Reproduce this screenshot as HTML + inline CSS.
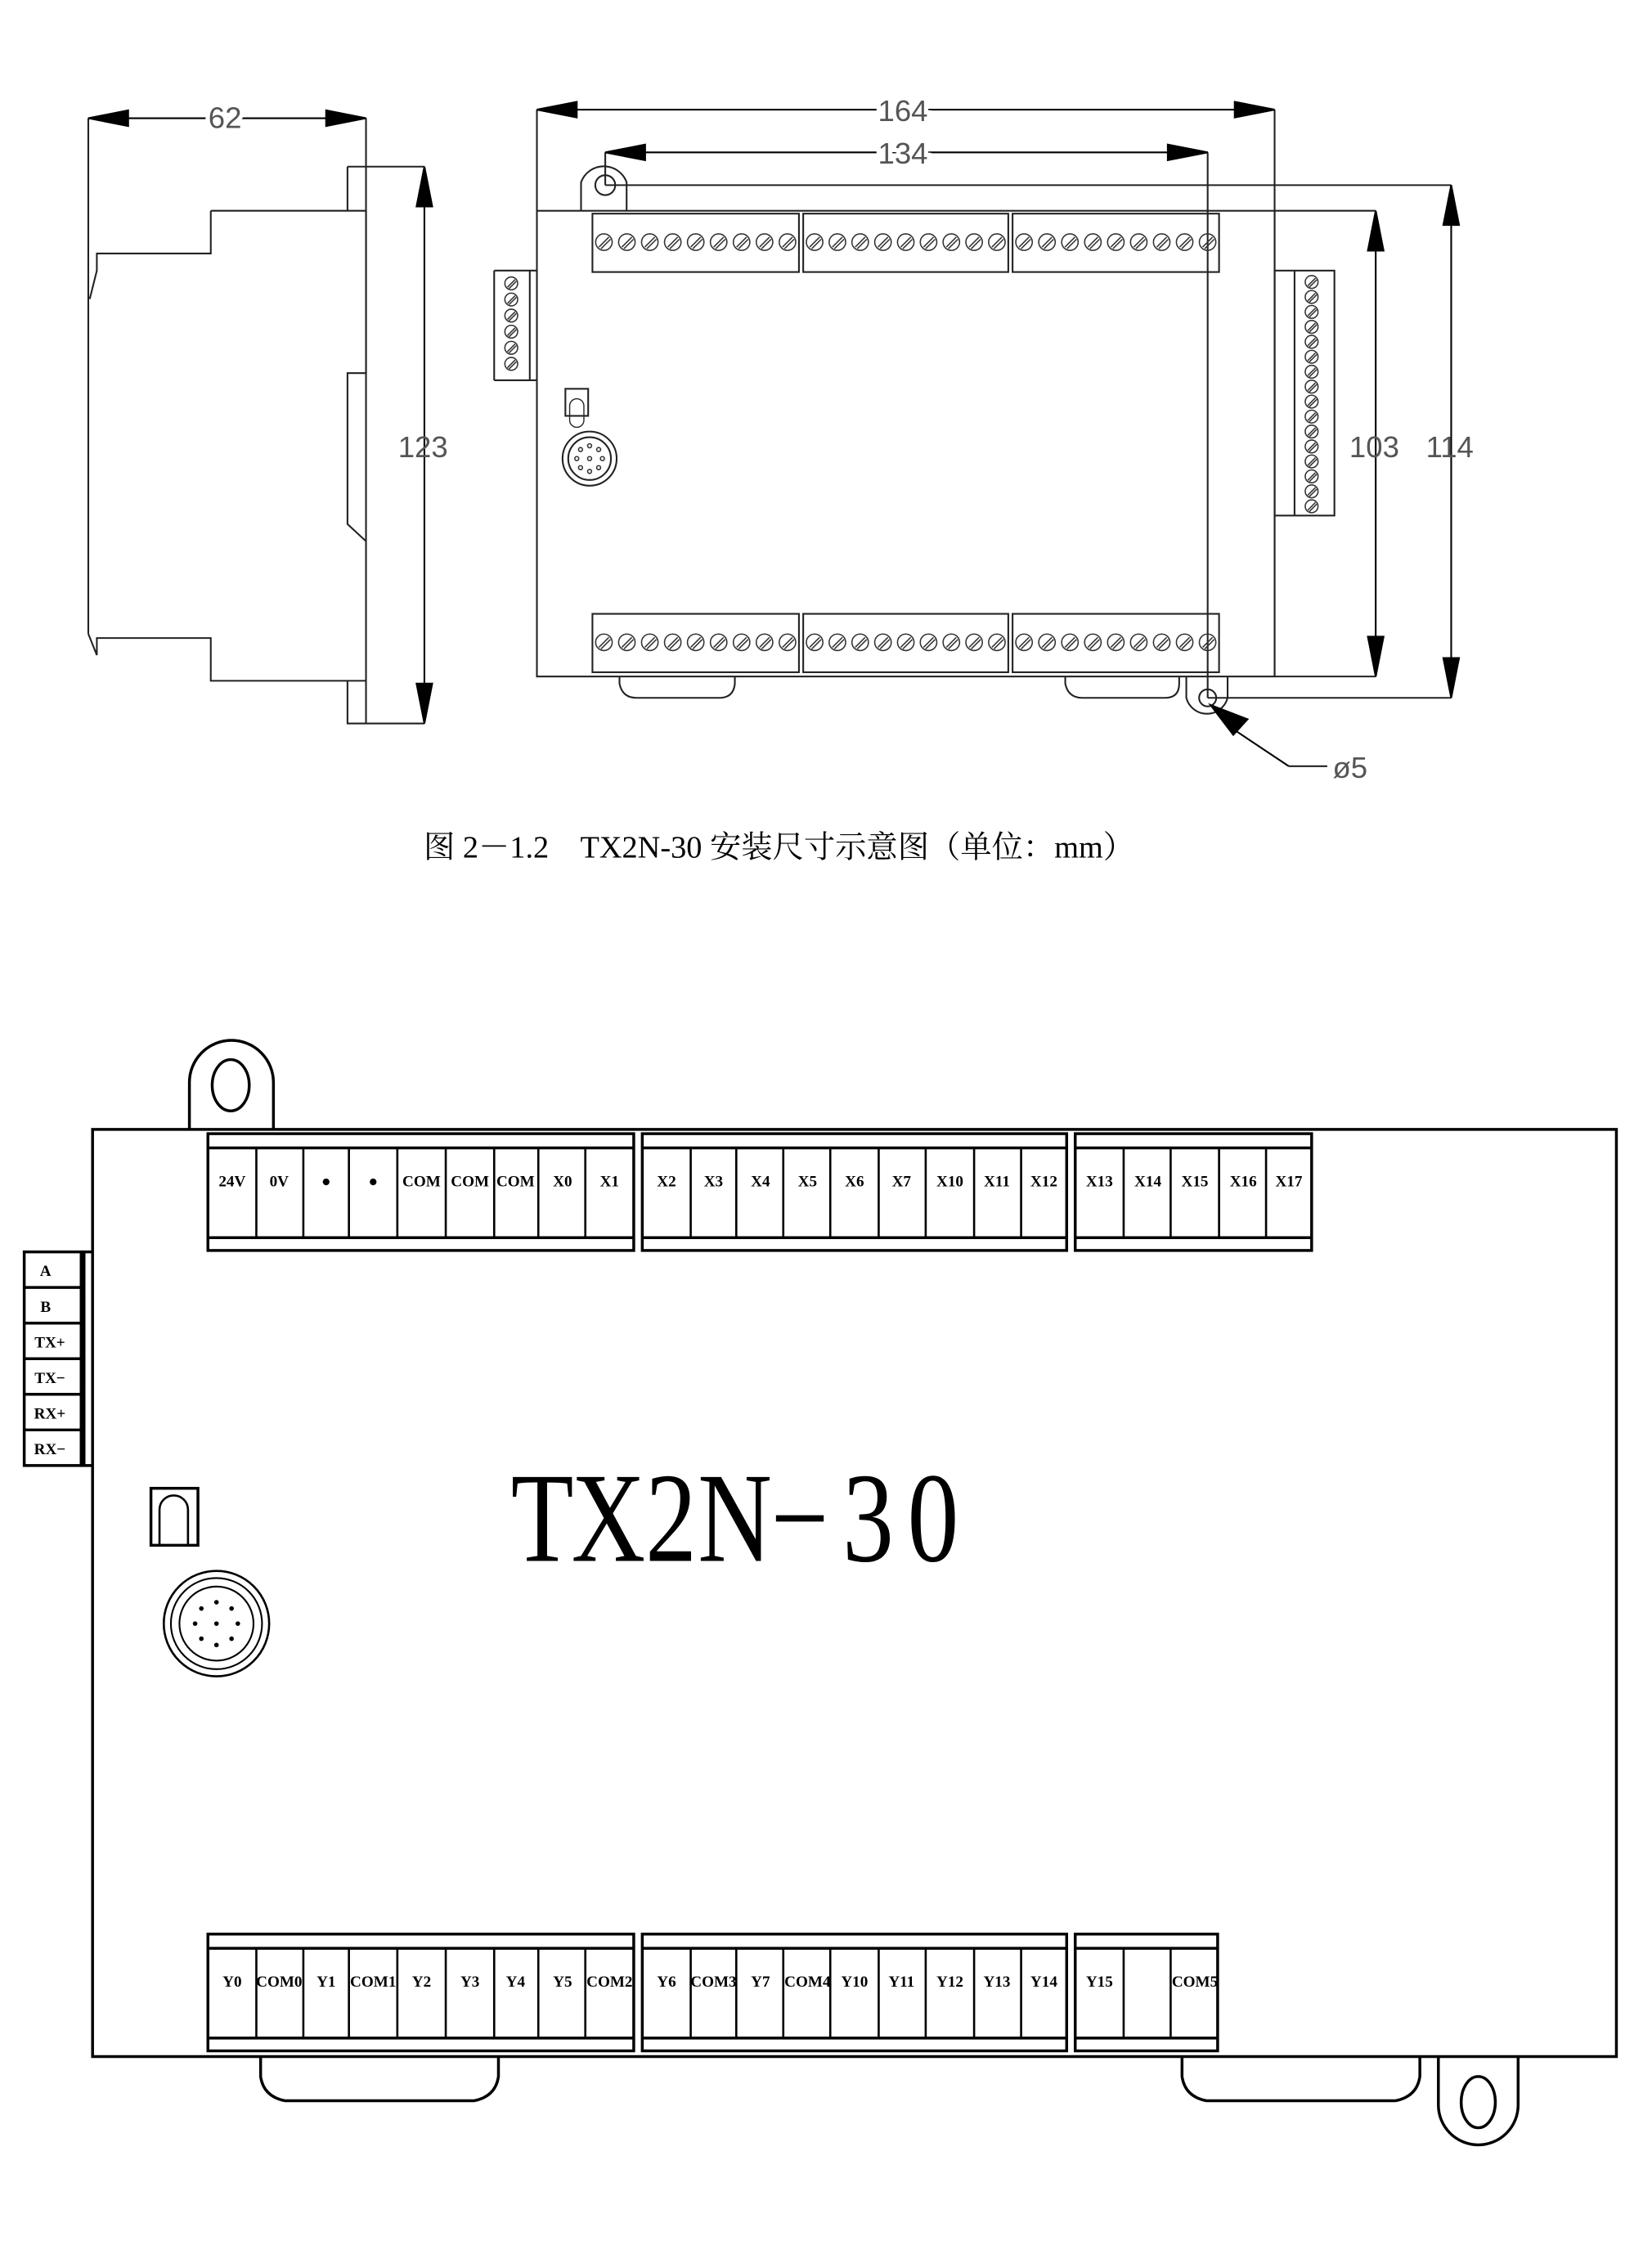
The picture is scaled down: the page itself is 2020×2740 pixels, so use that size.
<!DOCTYPE html>
<html><head><meta charset="utf-8"><style>
html,body{margin:0;padding:0;background:#fff;width:2020px;height:2740px;overflow:hidden}
svg{display:block}
.t{font-family:"Liberation Serif","Noto Serif CJK SC",serif;font-weight:bold;font-size:11px;text-anchor:middle}
.d{font-family:"Liberation Sans",sans-serif;font-size:21px;fill:#555;text-anchor:middle}
</style></head><body>
<svg id="s" width="2020" height="2740" viewBox="0 0 1160 1573.5" preserveAspectRatio="none" xmlns="http://www.w3.org/2000/svg">
<g fill="none" stroke="#222" stroke-width="1.2">
<line x1="62" y1="83" x2="62" y2="445"/>
<line x1="257" y1="83" x2="257" y2="508"/>
<path d="M244,117 H298 M244,117 V148 M244,478 V508 H298"/>
<path d="M148,148 H257 M148,148 V178 H68 V190 L63,210 M62,445 L68,460 V448 H148 V478 H257 M257,148 V262 H244 V368 L257,380"/>
<rect x="377" y="148" width="518" height="327"/>
<line x1="377" y1="77" x2="377" y2="148"/>
<line x1="895" y1="77" x2="895" y2="475"/>
<line x1="425" y1="107" x2="425" y2="130"/>
<line x1="848" y1="107" x2="848" y2="490"/>
<path d="M408,148 V128 A17,17 0 0 1 440,128 V148"/>
<circle cx="425" cy="130" r="7"/>
<line x1="425" y1="130" x2="1019" y2="130"/>
<line x1="848" y1="490" x2="1019" y2="490"/>
<line x1="895" y1="148" x2="966" y2="148"/>
<line x1="895" y1="475" x2="966" y2="475"/>
<path d="M833,475 V490 A15,15 0 0 0 862,490 V475"/>
<circle cx="848" cy="490" r="6"/>
<path d="M905,538 H932"/>
<rect x="416" y="150" width="145" height="41"/><rect x="564" y="150" width="144" height="41"/><rect x="711" y="150" width="145" height="41"/>
<rect x="416" y="431" width="145" height="41"/><rect x="564" y="431" width="144" height="41"/><rect x="711" y="431" width="145" height="41"/>
<path d="M347,190 H377 M347,267 H377 M347,190 V267 M372,190 V267"/>
<rect x="895" y="190" width="42" height="172"/><line x1="909" y1="190" x2="909" y2="362"/>
<rect x="397" y="273" width="16" height="19"/>
<path d="M400,292 V285 A5,5 0 0 1 410,285 V295 A5,5 0 0 1 400,295 Z" stroke-width="0.8"/>
<circle cx="414" cy="322" r="19"/><circle cx="414" cy="322" r="15"/>
<path d="M435,475 V480 Q437,490 447,490 H505 Q515,490 516,480 V475"/>
<path d="M748,475 V480 Q750,490 760,490 H818 Q828,490 828,480 V475"/>
</g>
<g id="dims" stroke="#000" stroke-width="1.2" fill="none"></g>
<g id="screws" stroke="#333" stroke-width="0.9" fill="none"></g>
<path d="M850,495 L876,505 L866,516 Z M866,512 L905,538" stroke="#000" fill="#000" stroke-width="1.2"/>
<text class="d" x="158" y="90" stroke="#fff" stroke-width="6">62</text><text class="d" x="158" y="90">62</text>
<text class="d" x="634" y="85" stroke="#fff" stroke-width="6">164</text><text class="d" x="634" y="85">164</text>
<text class="d" x="634" y="115" stroke="#fff" stroke-width="6">134</text><text class="d" x="634" y="115">134</text>
<text class="d" x="297" y="321">123</text>
<text class="d" x="965" y="321">103</text>
<text class="d" x="1018" y="321">114</text>
<text class="d" x="948" y="546">ø5</text>
<text x="547" y="602" style="font-family:'Liberation Serif','Noto Serif CJK SC',serif;font-size:22px;text-anchor:middle;white-space:pre" xml:space="preserve">图 2－1.2    TX2N-30 安装尺寸示意图（单位：mm）</text>

<g fill="none" stroke="#000" stroke-width="2">
<rect x="65" y="793" width="1070" height="651"/>
<path d="M133,793 V760 A29,29 0 0 1 192,760 V793"/>
<ellipse cx="162" cy="762" rx="13" ry="18"/>
<path d="M1010,1444 V1478 A28,28 0 0 0 1066,1478 V1444"/>
<ellipse cx="1038" cy="1476" rx="12" ry="18"/>
<path d="M183,1444 V1458 Q185,1472 200,1475 H333 Q348,1472 350,1458 V1444"/>
<path d="M830,1444 V1458 Q832,1472 847,1475 H980 Q995,1472 997,1458 V1444"/>
<rect x="17" y="879" width="40" height="150"/>
<line x1="57" y1="879" x2="65" y2="879"/><line x1="57" y1="1029" x2="65" y2="1029"/><line x1="59" y1="879" x2="59" y2="1029"/>
<path d="M17,904 H57 M17,929 H57 M17,954 H57 M17,979 H57 M17,1004 H57"/>
<rect x="106" y="1045" width="33" height="40"/>
<path d="M112,1085 V1060 A10,10 0 0 1 132,1060 V1085" stroke-width="1.5"/>
<circle cx="152" cy="1140" r="37" stroke-width="1.5"/><circle cx="152" cy="1140" r="32" stroke-width="1.2"/><circle cx="152" cy="1140" r="26" stroke-width="1.2"/>
</g>
<g id="tb" fill="none" stroke="#000" stroke-width="2"></g>
<g fill="#000" id="pins"></g>
<text transform="scale(0.8,1)" x="476 534 589 645 702 762 819" y="1096" style="font-family:'Liberation Serif',serif;font-size:90px;text-anchor:middle">TX2N−30</text>

<g class="t">
<text x="163" y="833">24V</text><text x="196" y="833">0V</text><text x="229" y="833">●</text><text x="262" y="833">●</text><text x="296" y="833">COM</text><text x="330" y="833">COM</text><text x="362" y="833">COM</text><text x="395" y="833">X0</text><text x="428" y="833">X1</text>
<text x="468" y="833">X2</text><text x="501" y="833">X3</text><text x="534" y="833">X4</text><text x="567" y="833">X5</text><text x="600" y="833">X6</text><text x="633" y="833">X7</text><text x="667" y="833">X10</text><text x="700" y="833">X11</text><text x="733" y="833">X12</text>
<text x="772" y="833">X13</text><text x="806" y="833">X14</text><text x="839" y="833">X15</text><text x="873" y="833">X16</text><text x="905" y="833">X17</text>
<text x="163" y="1395">Y0</text><text x="196" y="1395">COM0</text><text x="229" y="1395">Y1</text><text x="262" y="1395">COM1</text><text x="296" y="1395">Y2</text><text x="330" y="1395">Y3</text><text x="362" y="1395">Y4</text><text x="395" y="1395">Y5</text><text x="428" y="1395">COM2</text>
<text x="468" y="1395">Y6</text><text x="501" y="1395">COM3</text><text x="534" y="1395">Y7</text><text x="567" y="1395">COM4</text><text x="600" y="1395">Y10</text><text x="633" y="1395">Y11</text><text x="667" y="1395">Y12</text><text x="700" y="1395">Y13</text><text x="733" y="1395">Y14</text>
<text x="772" y="1395">Y15</text><text x="839" y="1395">COM5</text>
<text x="32" y="896">A</text><text x="32" y="921">B</text><text x="35" y="946">TX+</text><text x="35" y="971">TX−</text><text x="35" y="996">RX+</text><text x="35" y="1021">RX−</text>
</g>
</svg>
<script>
var NS="http://www.w3.org/2000/svg";
function el(p,t,a){var e=document.createElementNS(NS,t);for(var k in a)e.setAttribute(k,a[k]);p.appendChild(e);return e;}
var d=document.getElementById('dims');
function arrowLine(x1,y1,x2,y2){
 el(d,'line',{x1:x1,y1:y1,x2:x2,y2:y2});
 function head(xa,ya,xb,yb){var dx=xb-xa,dy=yb-ya,L=Math.hypot(dx,dy);dx/=L;dy/=L;var l=28,w=5.5;
  var bx=xa+dx*l,by=ya+dy*l;el(d,'path',{d:'M'+xa+','+ya+' L'+(bx-dy*w)+','+(by+dx*w)+' L'+(bx+dy*w)+','+(by-dx*w)+' Z',fill:'#000'});}
 head(x1,y1,x2,y2);head(x2,y2,x1,y1);
}
arrowLine(62,83,257,83);
arrowLine(377,77,895,77);
arrowLine(425,107,848,107);
arrowLine(298,117,298,508);
arrowLine(966,148,966,475);
arrowLine(1019,130,1019,490);
var s=document.getElementById('screws');
function screw(cx,cy,r){el(s,'circle',{cx:cx,cy:cy,r:r});el(s,'line',{x1:cx-r*0.6,y1:cy+r*0.6,x2:cx+r*0.6,y2:cy-r*0.6});el(s,'line',{x1:cx-r*0.35,y1:cy+r*0.8,x2:cx+r*0.8,y2:cy-r*0.35});}
[[416,561],[564,708],[711,856]].forEach(function(b){var n=9,w=(b[1]-b[0])/n;for(var i=0;i<n;i++){screw(b[0]+w*(i+0.5),170,5.8);screw(b[0]+w*(i+0.5),451,5.8);}});
for(var i=0;i<6;i++)screw(359,199+i*11.3,4.5);
for(var i=0;i<16;i++)screw(921,198+i*10.5,4.5);
for(var a=0;a<8;a++){var an=a*Math.PI/4;el(s,'circle',{cx:414+9*Math.cos(an),cy:322+9*Math.sin(an),r:1.4});}
el(s,'circle',{cx:414,cy:322,r:1.4});
var tb=document.getElementById('tb');
function grp(xs,y0,y1){var x0=xs[0],x1=xs[xs.length-1];el(tb,'rect',{x:x0,y:y0,width:x1-x0,height:y1-y0});
 el(tb,'line',{x1:x0,y1:y0+10,x2:x1,y2:y0+10});el(tb,'line',{x1:x0,y1:y1-9,x2:x1,y2:y1-9});
 for(var i=1;i<xs.length-1;i++)el(tb,'line',{x1:xs[i],y1:y0+10,x2:xs[i],y2:y1-9,'stroke-width':1.5});}
var g1=[146,180,213,245,279,313,347,378,411,445],g2=[451,485,517,550,583,617,650,684,717,749];
grp(g1,796,878);grp(g2,796,878);grp([755,789,822,856,889,921],796,878);
grp(g1,1358,1440);grp(g2,1358,1440);grp([755,789,822,855],1358,1440);
var p=document.getElementById('pins');
for(var a=0;a<8;a++){var an=a*Math.PI/4;el(p,'circle',{cx:152+15*Math.cos(an),cy:1140+15*Math.sin(an),r:1.6});}
el(p,'circle',{cx:152,cy:1140,r:1.6});
</script>
</body></html>
